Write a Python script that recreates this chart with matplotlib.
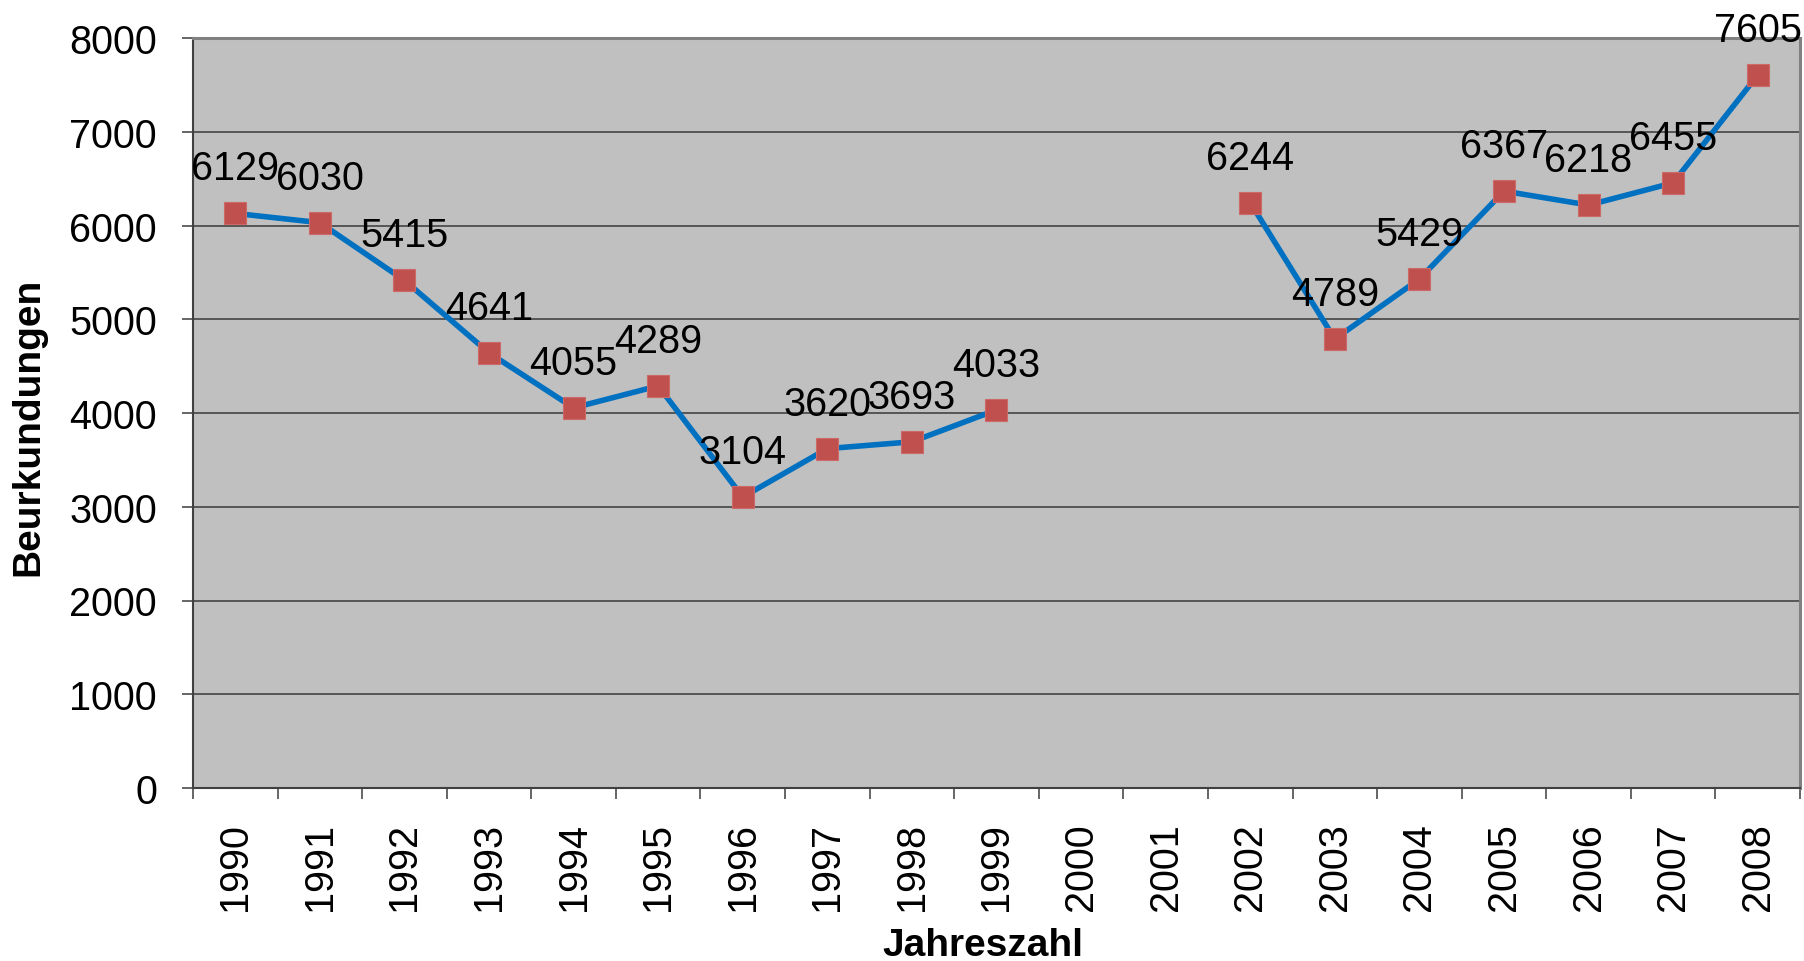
import numpy as np
import matplotlib
matplotlib.use("Agg")
import matplotlib.pyplot as plt

plt.rcParams['font.family'] = ['Liberation Sans', 'DejaVu Sans']

years = [str(y) for y in range(1990, 2009)]
values = [6129, 6030, 5415, 4641, 4055, 4289, 3104, 3620, 3693, 4033,
          np.nan, np.nan, 6244, 4789, 5429, 6367, 6218, 6455, 7605]
yticks = [0, 1000, 2000, 3000, 4000, 5000, 6000, 7000, 8000]

FS = 28.5
W, H = 1804, 962
fig = plt.figure(figsize=(W / 100, H / 100), dpi=100)
L, R, T, B = 193, 1800, 39, 789
ax = fig.add_axes([L / W, 1 - B / H, (R - L) / W, (B - T) / H])
ax.set_facecolor('#c0c0c0')

x = np.arange(len(years))
ax.plot(x, values, color='#0070C0', lw=4.0, marker='s', markersize=15.5,
        markerfacecolor='#C0504D', markeredgecolor='#CD6A67', markeredgewidth=0.8,
        zorder=3)

for xi, v in zip(x, values):
    if np.isnan(v):
        continue
    ax.annotate(f"{int(v)}", (xi, v), xytext=(0, 34), textcoords='offset pixels',
                ha='center', va='baseline', fontsize=FS, color='black',
                annotation_clip=False, zorder=4)

ax.set_xlim(-0.5, len(years) - 0.5)
ax.set_ylim(0, 8000)
ax.set_yticks(yticks)
ax.set_yticklabels([str(t) for t in yticks], fontsize=FS)
ax.yaxis.grid(True, color='#4d4d4d', lw=1.3, zorder=1)
ax.set_axisbelow(True)

ax.set_xticks(x)
ax.set_xticklabels(years, rotation=90, fontsize=FS)
ax.set_xticks(np.arange(-0.5, len(years)), minor=True)
ax.tick_params(axis='x', which='major', length=0, pad=24.5)
ax.tick_params(axis='x', which='minor', length=8, width=1.3, color='#595959')
ax.tick_params(axis='y', length=8, width=1.3, color='#595959', pad=18)

for s in ['top', 'right']:
    ax.spines[s].set_color('#808080')
    ax.spines[s].set_linewidth(2.2)
for s in ['left', 'bottom']:
    ax.spines[s].set_color('#404040')
    ax.spines[s].set_linewidth(1.5)

fig.text(28 / W, 1 - 427 / H, 'Beurkundungen', rotation=90, ha='center', va='center',
         fontsize=28, fontweight='bold')
fig.text(983 / W, 1 - 956 / H, 'Jahreszahl', ha='center', va='baseline',
         fontsize=28, fontweight='bold')

fig.savefig('out.png', dpi=100, facecolor='white')
